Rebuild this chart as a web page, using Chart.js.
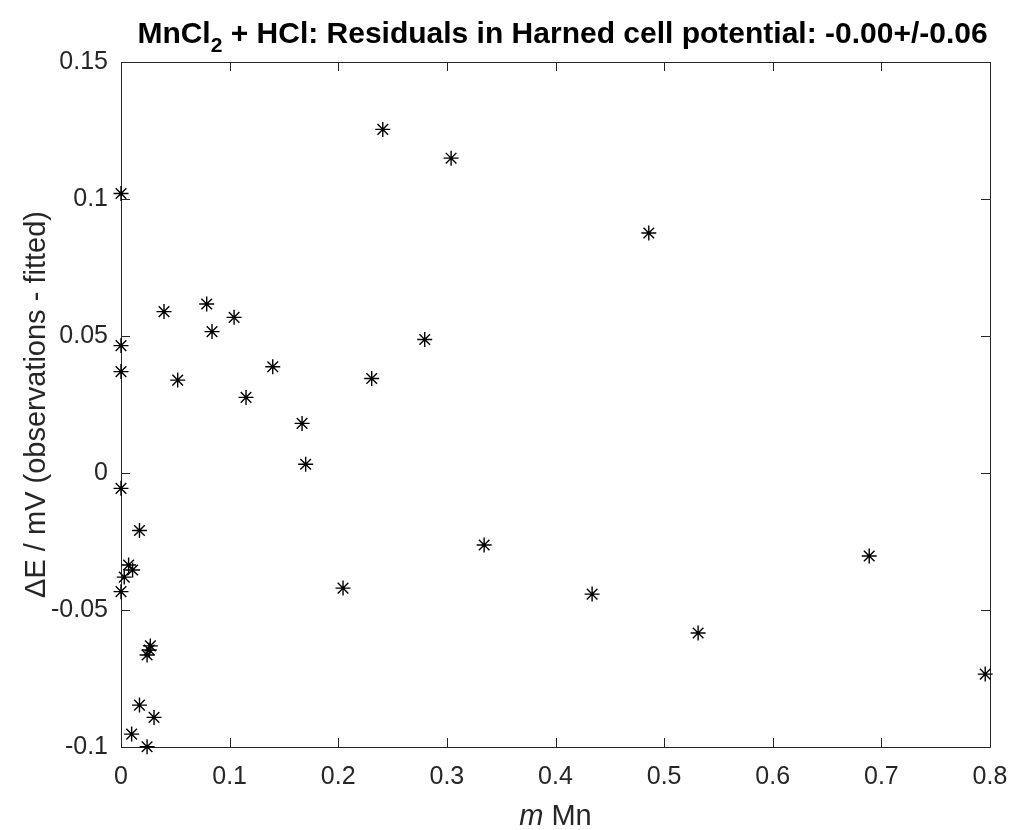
<!DOCTYPE html>
<html>
<head>
<meta charset="utf-8">
<script src="https://cdn.jsdelivr.net/npm/chart.js@4.4.0/dist/chart.umd.min.js"></script>
<style>
  html, body { margin: 0; padding: 0; background: #ffffff; }
  #wrap { width: 1011px; height: 830px; }
</style>
</head>
<body>
<div id="wrap"><canvas id="c" width="1011" height="830"></canvas></div>
<script>
// Molality of Mn and residuals (observed - fitted) in mV
const molality = [
  0.000, 0.000, 0.000, 0.000, 0.000, 0.003, 0.007, 0.0107, 0.017,
  0.027, 0.026, 0.024, 0.017, 0.0304, 0.0098, 0.024,
  0.0396, 0.0789, 0.0838, 0.1041, 0.0522, 0.1397, 0.1151,
  0.241, 0.3039, 0.4859, 0.2796, 0.2308, 0.1667, 0.170,
  0.2044, 0.3343, 0.4337, 0.5313, 0.6888, 0.7956
];
const residual = [
  0.102, 0.0465, 0.037, -0.0056, -0.0433, -0.038, -0.0336, -0.0354, -0.021,
  -0.0631, -0.0646, -0.0664, -0.0847, -0.0892, -0.0953, -0.0999,
  0.0589, 0.0617, 0.0516, 0.0568, 0.0339, 0.0388, 0.0276,
  0.1254, 0.1149, 0.0876, 0.0487, 0.0345, 0.0181, 0.0032,
  -0.042, -0.0263, -0.0442, -0.0584, -0.0303, -0.0734
];

const xTicks = [0, 0.1, 0.2, 0.3, 0.4, 0.5, 0.6, 0.7, 0.8];
const yTicks = [-0.1, -0.05, 0, 0.05, 0.1, 0.15];

const titleMain = 'MnCl';
const titleSub = '2';
const titleRest = ' + HCl: Residuals in Harned cell potential: -0.00+/-0.06';
const xLabelItalic = 'm';
const xLabelRest = ' Mn';
const yLabel = '\u0394E / mV (observations - fitted)';

const FONT = '"Liberation Sans", Arial, Helvetica, sans-serif';
const AXIS_COLOR = '#262626';
const TICK_LEN = 9;

const points = molality.map((m, i) => ({ x: m, y: residual[i] }));
const fmt = v => String(+v.toFixed(2));

// Box around the axes, inward tick marks on all four sides, title and axis labels
const decorations = {
  id: 'decorations',
  beforeDatasetsDraw(chart) {
    const { ctx, chartArea: a, scales: { x, y } } = chart;
    ctx.save();
    ctx.strokeStyle = AXIS_COLOR;
    ctx.lineWidth = 1;
    ctx.beginPath();
    ctx.rect(Math.round(a.left) + 0.5, Math.round(a.top) + 0.5,
             Math.round(a.right - a.left), Math.round(a.bottom - a.top));
    ctx.stroke();
    ctx.beginPath();
    xTicks.forEach(v => {
      const px = Math.round(x.getPixelForValue(v)) + 0.5;
      ctx.moveTo(px, a.bottom); ctx.lineTo(px, a.bottom - TICK_LEN);
      ctx.moveTo(px, a.top); ctx.lineTo(px, a.top + TICK_LEN);
    });
    yTicks.forEach(v => {
      const py = Math.round(y.getPixelForValue(v)) + 0.5;
      ctx.moveTo(a.left, py); ctx.lineTo(a.left + TICK_LEN, py);
      ctx.moveTo(a.right, py); ctx.lineTo(a.right - TICK_LEN, py);
    });
    ctx.stroke();
    ctx.restore();
  },
  afterDraw(chart) {
    const { ctx, chartArea: a } = chart;
    const cx = (a.left + a.right) / 2;
    ctx.save();
    ctx.fillStyle = '#000000';
    ctx.textBaseline = 'alphabetic';

    // Title with subscript
    const big = 'bold 30px ' + FONT;
    const small = 'bold 21px ' + FONT;
    ctx.font = big;
    const w1 = ctx.measureText(titleMain).width;
    const w3 = ctx.measureText(titleRest).width;
    ctx.font = small;
    const w2 = ctx.measureText(titleSub).width;
    let tx = cx + 7 - (w1 + w2 + w3) / 2;
    const base = 43;
    ctx.font = big;
    ctx.fillText(titleMain, tx, base);
    tx += w1;
    ctx.font = small;
    ctx.fillText(titleSub, tx, base + 9);
    tx += w2;
    ctx.font = big;
    ctx.fillText(titleRest, tx, base);

    // x-axis label with italic symbol
    ctx.fillStyle = AXIS_COLOR;
    const it = 'italic 29px ' + FONT;
    const rg = '29px ' + FONT;
    ctx.font = it;
    const wi = ctx.measureText(xLabelItalic).width;
    ctx.font = rg;
    const wr = ctx.measureText(xLabelRest).width;
    const lx = cx - (wi + wr) / 2;
    ctx.font = it;
    ctx.fillText(xLabelItalic, lx, 825);
    ctx.font = rg;
    ctx.fillText(xLabelRest, lx + wi, 825);

    // y-axis label, rotated
    ctx.translate(45, (a.top + a.bottom) / 2);
    ctx.rotate(-Math.PI / 2);
    ctx.textAlign = 'center';
    ctx.font = rg;
    ctx.fillText(yLabel, 0, 0);
    ctx.restore();
  }
};

new Chart(document.getElementById('c'), {
  type: 'scatter',
  data: {
    datasets: [{
      data: points,
      pointStyle: 'star',
      pointRadius: 7.5,
      pointHoverRadius: 7.5,
      borderColor: '#000000',
      backgroundColor: '#000000',
      borderWidth: 1.4,
      showLine: false,
      clip: false
    }]
  },
  options: {
    responsive: false,
    devicePixelRatio: 1,
    animation: false,
    events: [],
    layout: { padding: { top: 62, right: 21, left: 0, bottom: 0 } },
    plugins: {
      legend: { display: false },
      title: { display: false },
      tooltip: { enabled: false }
    },
    scales: {
      x: {
        type: 'linear',
        min: 0, max: 0.8,
        afterBuildTicks: s => { s.ticks = xTicks.map(v => ({ value: v })); },
        afterFit: s => { s.height = 83; s.paddingLeft = 0; s.paddingRight = 0; },
        grid: { display: false, drawTicks: false },
        border: { display: false },
        ticks: {
          color: AXIS_COLOR,
          font: { family: FONT, size: 25 },
          padding: 15,
          maxRotation: 0,
          autoSkip: false,
          callback: v => fmt(v)
        }
      },
      y: {
        type: 'linear',
        min: -0.1, max: 0.15,
        afterBuildTicks: s => { s.ticks = yTicks.map(v => ({ value: v })); },
        afterFit: s => { s.width = 121; s.paddingTop = 0; s.paddingBottom = 0; },
        grid: { display: false, drawTicks: false },
        border: { display: false },
        ticks: {
          color: AXIS_COLOR,
          font: { family: FONT, size: 25 },
          padding: 13,
          autoSkip: false,
          callback: v => fmt(v)
        }
      }
    }
  },
  plugins: [decorations]
});
</script>
</body>
</html>
